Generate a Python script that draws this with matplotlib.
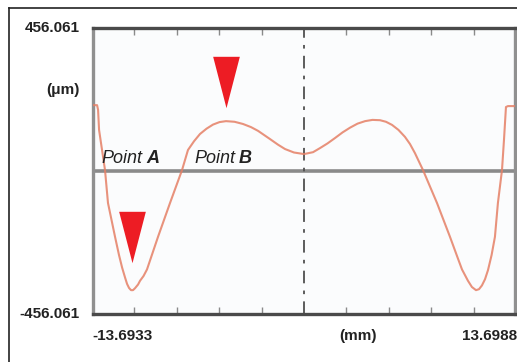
import matplotlib.pyplot as plt
import numpy as np

# profile: position (mm) and height (um)
pos_mm = [-17.04, -16.71, -16.63, -16.55, -16.31, -16.07, -15.83, -15.26, -14.94, -14.69,
          -14.45, -14.29, -14.13, -13.97, -13.81, -13.65, -13.40, -13.24, -12.96, -12.68,
          -11.79, -10.82, -9.85, -9.37, -8.88, -8.40, -7.87, -7.35, -6.82, -6.30,
          -5.61, -4.93, -4.28, -3.71, -2.75, -2.10, -1.53, -0.81, 0.0, 0.73,
          1.29, 1.90, 2.50, 3.11, 3.71, 4.32, 4.93, 5.53, 6.14, 6.62,
          7.11, 7.63, 8.15, 8.56, 8.96, 9.61, 10.74, 11.79, 12.44, 12.76,
          13.24, 13.56, 13.89, 14.13, 14.37, 14.62, 14.86, 15.15, 15.42, 15.66,
          15.99, 16.15, 16.31, 16.47, 17.04]
height_um = [210, 210, 195, 131, 67, 3, -102, -210, -268, -308,
             -340, -360, -373, -380, -380, -374, -362, -350, -335, -314,
             -210, -102, 3, 67, 95, 118, 135, 148, 156, 159,
             157, 150, 140, 128, 102, 84, 70, 59, 54, 60,
             73, 88, 105, 123, 138, 151, 159, 163, 162, 157,
             147, 131, 109, 86, 57, 3, -102, -210, -280, -314,
             -350, -370, -380, -377, -365, -345, -316, -268, -210, -102,
             3, 99, 204, 207, 207]

# red arrow markers (Point B peak, Point A valley)
arrow_x = [-6.26, -13.89]
arrow_y = [284, -209]

y_lim = 456.061
x_lim = 17.04
x_left_lbl = "-13.6933"
x_right_lbl = "13.6988"
tick_step = 3.4233

plt.rcParams['font.family'] = ['Liberation Sans', 'DejaVu Sans']

fig = plt.figure(figsize=(5.17, 3.62), dpi=100)
W, H = 517.0, 362.0

# outer frame
fig.add_artist(plt.Line2D([9/W, 1], [1-8/H, 1-8/H], color='#222222', lw=1.2))
fig.add_artist(plt.Line2D([9/W, 9/W], [0, 1-8/H], color='#222222', lw=1.2))

ax = fig.add_axes([93/W, 1-314/H, 422/W, 286/H])
ax.set_facecolor('#fbfcfd')
ax.set_xlim(-x_lim, x_lim)
ax.set_ylim(-y_lim, y_lim)

ax.axhline(0, color='#8a8a8a', lw=2.6, zorder=2)
ax.axvline(0, color='#505050', lw=1.3, linestyle=(0, (7, 4, 2, 4)), zorder=2)

ax.plot(pos_mm, height_um, color='#e58066', lw=1.5, alpha=0.85, zorder=3,
        solid_joinstyle='round')

tri = [(-13.5, 26), (13.5, 26), (0, -26)]
ax.plot(arrow_x, arrow_y, linestyle='none', marker=tri, markersize=37,
        color='#ed1c24', markeredgewidth=0, zorder=4)

ticks = [k * tick_step for k in (-4, -3, -2, -1, 1, 2, 3, 4)]
ax.set_xticks(ticks)
ax.set_yticks([])
ax.tick_params(axis='x', direction='in', length=5, width=1, color='#8a8a8a',
               top=True, bottom=True, labelbottom=False)

for side, col in (('top', '#4a4a4a'), ('bottom', '#4a4a4a'),
                  ('left', '#909090'), ('right', '#909090')):
    ax.spines[side].set_color(col)
    ax.spines[side].set_linewidth(2.4)

txt = dict(fontsize=11, fontweight='bold', color='#222222')
fig.text(80/W, 1-28/H, "456.061", ha='right', va='center', **txt)
fig.text(80/W, 1-314/H, "-456.061", ha='right', va='center', **txt)
fig.text(80/W, 1-90/H, "(\u03bcm)", ha='right', va='center', **txt)
fig.text(92/W, 1-336/H, x_left_lbl, ha='left', va='center', **txt)
fig.text(358/W, 1-336/H, "(mm)", ha='center', va='center', **txt)
fig.text(517/W, 1-336/H, x_right_lbl, ha='right', va='center', **txt)

# "Point" italic, letter bold italic
lbl = dict(fontsize=13, color='#222222', va='baseline', style='italic')
for x0, x1, letter in ((101, 146, 'A'), (194, 239, 'B')):
    fig.text(x0/W, 1-163/H, "Point", **lbl)
    fig.text(x1/W, 1-163/H, letter, fontweight='bold', **lbl)

fig.savefig('out.png', dpi=100)
